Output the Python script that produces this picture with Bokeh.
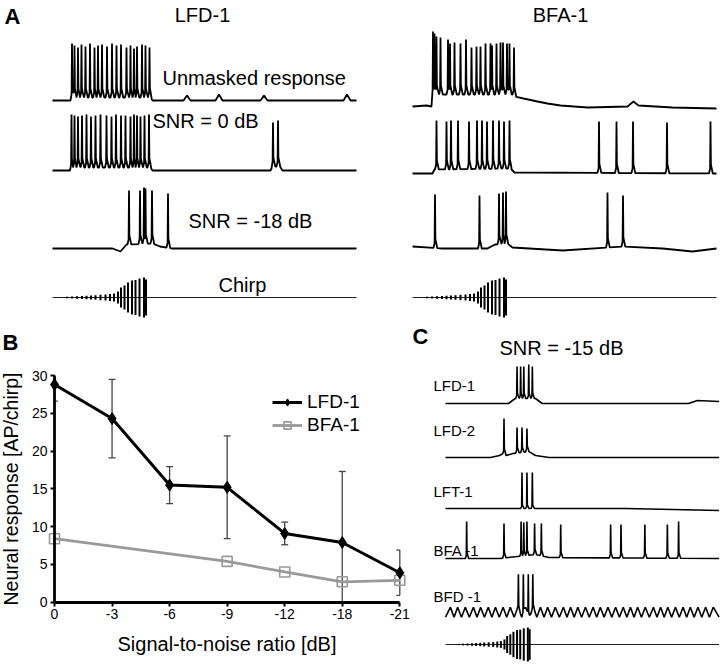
import numpy as np
from bokeh.plotting import figure
from bokeh.models import Range1d, FixedTicker, Legend, LegendItem, LinearAxis
from bokeh.core.properties import value
from bokeh.embed import file_html
from bokeh.resources import INLINE

FONT = "Liberation Sans"

# ---------------- Panel B data ----------------
snr_labels = ["0", "-3", "-6", "-9", "-12", "-18", "-21"]
lfd_mean = [28.8, 24.3, 15.5, 15.2, 9.1, 7.9, 3.9]
lfd_err = [2.2, 5.2, 2.45, 6.8, 1.5, 9.4, 3.0]
bfa_snr = ["0", "-9", "-12", "-18", "-21"]
bfa_mean = [8.4, 5.4, 4.0, 2.7, 2.9]
y_ticks = [0, 5, 10, 15, 20, 25, 30]
y_lim = (0, 30)

# ---------------- Traces (time in ms, voltage in mV above rest) ----------------
trace_dur = 608

# Panel A, LFD-1
lfd_unm_spk_t = [39, 44, 51, 58, 66, 75, 84, 91, 99, 109, 119, 128, 137, 148, 156, 163, 169, 179, 186, 194]
lfd_unm_spk_v = [57, 55, 53, 56, 54, 57, 53, 55, 56, 54, 57, 55, 56, 53, 55, 52, 54, 56, 55, 53]
lfd_unm_base_t = [0, 36, 40, 196, 200, 262, 269, 276, 326, 333, 340, 416, 423, 430, 582, 589, 596, 608]
lfd_unm_base_v = [0, 0, 3, 3, 0, 0, 5, 0, 0, 6, 0, 0, 5, 0, 0, 6, 0, 0]

lfd_0_spk_t = [38, 44, 51, 59, 68, 77, 86, 96, 108, 118, 127, 137, 146, 156, 163, 169, 176, 184, 193, 441, 451]
lfd_0_spk_v = [56, 55, 54, 55, 56, 54, 55, 56, 55, 54, 56, 55, 55, 54, 56, 55, 54, 55, 56, 48, 50]
lfd_0_base_t = [0, 36, 40, 196, 200, 436, 440, 455, 460, 608]
lfd_0_base_v = [0, 0, 3, 3, 0, 0, 4, 4, 0, 0]

lfd_18_spk_t = [153, 175, 183, 186, 199, 231]
lfd_18_spk_v = [58, 58, 61, 60, 58, 55]
lfd_18_base_t = [0, 120, 136, 148, 200, 215, 240, 608]
lfd_18_base_v = [0, 0, -3, 4, 5, 2, 0, 0]

# Panel A, BFA-1
bfa_unm_spk_t = [41, 44, 48, 56, 71, 75, 84, 96, 107, 118, 128, 136, 146, 156, 159, 168, 176, 181, 189, 194, 203]
bfa_unm_spk_v = [75, 73, 70, 69, 67, 63, 64, 63, 67, 59, 60, 60, 63, 63, 61, 63, 64, 64, 63, 63, 59]
bfa_unm_base_t = [0, 28, 38, 40, 200, 204, 222, 250, 270, 296, 350, 430, 442, 452, 520, 608]
bfa_unm_base_v = [0, 1, 0, 12, 12, 10, 8, 5, 3, 1, -1, 0, 5, 1, -1, -2]

bfa_0_spk_t = [48, 68, 77, 91, 113, 129, 139, 149, 161, 173, 183, 194, 373, 408, 441, 509, 596]
bfa_0_spk_v = [53, 52, 53, 53, 52, 53, 53, 52, 53, 53, 52, 53, 52, 52, 52, 51, 52]
bfa_0_base_t = [0, 40, 44, 196, 204, 608]
bfa_0_base_v = [0, 0, 4, 5, 1, 0]

bfa_18_spk_t = [45, 134, 173, 181, 187, 390, 421]
bfa_18_spk_v = [54, 53, 55, 56, 57, 56, 53]
bfa_18_base_t = [0, 60, 150, 165, 190, 200, 300, 420, 500, 560, 608]
bfa_18_base_v = [2, 0, 0, 4, 5, 1, -2, 2, 0, -3, 0]

# Chirp stimulus: pulse times and amplitudes
chirp_t = [29, 39, 49, 59, 68, 77, 86, 96, 106, 115, 123, 131, 137, 144, 151, 159, 166, 174, 183, 187]
chirp_a = [0.7, 1, 1.2, 1.5, 1.8, 2, 2.3, 2.7, 3, 3.5, 4, 6, 10, 12, 15, 17, 17.5, 19, 20, 18]

# Panel C (SNR = -15 dB)
c_names = ["LFD-1", "LFD-2", "LFT-1", "BFA -1", "BFD -1"]
c_lfd1_spk_t = [159, 167, 174, 185, 193]
c_lfd1_spk_v = [37, 37, 37, 39, 37]
c_lfd1_base_t = [0, 140, 155, 200, 215, 540, 560, 608]
c_lfd1_base_v = [0, 0, 5, 5, 0, 0, 3, 2]

c_lfd2_spk_t = [130, 159, 170, 181]
c_lfd2_spk_v = [39, 30, 30, 29]
c_lfd2_base_t = [0, 100, 120, 128, 135, 150, 185, 200, 230, 608]
c_lfd2_base_v = [0, 0, 2, 4, 2, 4, 6, 2, 0, 0]

c_lft1_spk_t = [170, 181, 193]
c_lft1_spk_v = [36, 36, 36]
c_lft1_base_t = [0, 400, 608]
c_lft1_base_v = [0, 0, -2]

c_bfa1_spk_t = [47, 130, 168, 174, 181, 198, 213, 256, 367, 390, 443, 493, 518]
c_bfa1_spk_v = [37, 35, 37, 36, 37, 35, 35, 34, 34, 34, 34, 34, 37]
c_bfa1_base_t = [0, 120, 160, 200, 230, 608]
c_bfa1_base_v = [0, 0, 2, 4, 1, 0]

c_bfd1_spk_t = [162, 173, 184, 194]
c_bfd1_spk_v = [38, 38, 38, 38]
c_bfd1_osc_peaks = [11, 27, 44, 62, 78, 95, 111, 128, 144, 161, 178, 195, 211, 227, 244, 262, 278, 294,
                    311, 328, 344, 361, 378, 395, 411, 427, 444, 462, 478, 494, 511, 528, 544, 561, 578, 595]
c_bfd1_osc_amp = 5

# ---------------- helpers ----------------
SHAPE = [(-3.0, 0.0), (-0.8, 5.0), (0.0, None), (0.8, 9.0), (2.5, 5.0), (4.5, 0.0)]
TEXT_DY = -6  # correction for how the svg backend places alphabetic baselines


def build_trace(bt, bv, st, sv, sh=1.0):
    bt = np.asarray(bt, float)
    bv = np.asarray(bv, float)

    def base(t):
        return float(np.interp(t, bt, bv))

    pts, windows = [], []
    n = len(st)
    for i, (ts, pk) in enumerate(zip(st, sv)):
        lo = ts - 3.0 if i == 0 else max(ts - 3.0, (st[i - 1] + ts) / 2)
        hi = ts + 4.5 if i == n - 1 else min(ts + 4.5, (ts + st[i + 1]) / 2)
        windows.append((lo, hi))
        for dt, dv in SHAPE:
            tt = ts + dt
            if dv is None:
                pts.append((tt, float(pk)))
            elif lo <= tt <= hi:
                pts.append((tt, base(tt) + dv * sh))
    for t, v in zip(bt, bv):
        if not any(lo < t < hi for lo, hi in windows):
            pts.append((float(t), float(v)))
    pts.sort()
    return np.array([p[0] for p in pts]), np.array([p[1] for p in pts])


def draw_trace(p, x0, y0, sx, sy, bt, bv, st, sv, sh=1.0, lw=1.8):
    t, v = build_trace(bt, bv, st, sv, sh)
    p.line(x0 + t * sx, y0 - v * sy, line_color="black", line_width=lw)


def draw_chirp(p, x0, y0, sx, k):
    t = np.asarray(chirp_t, float)
    a = np.asarray(chirp_a, float)
    p.line([x0, x0 + trace_dur * sx], [y0, y0], line_color="#222222", line_width=1)
    p.segment(x0=x0 + t * sx, y0=y0 - a * k, x1=x0 + t * sx, y1=y0 + a * k,
              line_color="black", line_width=2)


def put_text(p, x, y, s, size, bold=False, align="left"):
    p.text(x=[x], y=[y + TEXT_DY], text=[s], text_font=value(FONT), text_font_size=value(f"{size}px"),
           text_font_style="bold" if bold else "normal", text_align=align,
           text_baseline="alphabetic", text_color="black")


# ---------------- one canvas, page coordinates in reference pixels ----------------
W_REF, H_REF = 720, 665
p = figure(width=W_REF, height=H_REF, x_range=Range1d(0, W_REF), y_range=Range1d(H_REF, 0),
           x_axis_location=None, y_axis_location=None,
           output_backend="svg", toolbar_location=None, min_border=0)
p.title.visible = False
p.outline_line_color = None
p.grid.visible = False

# ---------------- Panel A ----------------
A_SX = 0.5
LX0, BX0 = 52, 412
draw_trace(p, LX0, 100, A_SX, 1, lfd_unm_base_t, lfd_unm_base_v, lfd_unm_spk_t, lfd_unm_spk_v)
draw_trace(p, LX0, 170, A_SX, 1, lfd_0_base_t, lfd_0_base_v, lfd_0_spk_t, lfd_0_spk_v)
draw_trace(p, LX0, 248, A_SX, 1, lfd_18_base_t, lfd_18_base_v, lfd_18_spk_t, lfd_18_spk_v)
draw_chirp(p, LX0, 297, A_SX, 1.0)
draw_trace(p, BX0, 106, A_SX, 1, bfa_unm_base_t, bfa_unm_base_v, bfa_unm_spk_t, bfa_unm_spk_v)
draw_trace(p, BX0, 173, A_SX, 1, bfa_0_base_t, bfa_0_base_v, bfa_0_spk_t, bfa_0_spk_v)
draw_trace(p, BX0, 248, A_SX, 1, bfa_18_base_t, bfa_18_base_v, bfa_18_spk_t, bfa_18_spk_v)
draw_chirp(p, BX0, 297, A_SX, 1.0)

put_text(p, 4, 21.5, "A", 22, bold=True)
put_text(p, 202, 20.5, "LFD-1", 20, align="center")
put_text(p, 560, 20.5, "BFA-1", 20, align="center")
put_text(p, 162, 83, "Unmasked response", 20)
put_text(p, 152, 126, "SNR = 0 dB", 20)
put_text(p, 188, 226, "SNR = -18 dB", 20)
put_text(p, 218, 290, "Chirp", 20)

# ---------------- Panel B (own ranges mapped into its plot box) ----------------
BL, BR, BT, BB = 54.0, 399.3, 375.0, 601.7  # plot box of panel B, reference pixels
nx = len(snr_labels) - 1
kx = (BR - BL) / nx
ky = (BB - BT) / (y_lim[1] - y_lim[0])
p.extra_x_ranges = {"bx": Range1d(-BL / kx, nx + (W_REF - BR) / kx)}
p.extra_y_ranges = {"by": Range1d(y_lim[0] - (H_REF - BB) / ky, y_lim[0] + BB / ky)}
RB = dict(x_range_name="bx", y_range_name="by")

xi = list(range(len(snr_labels)))
bxi = [snr_labels.index(s) for s in bfa_snr]

lo = [max(m - e, y_lim[0]) for m, e in zip(lfd_mean, lfd_err)]
hi = [min(m + e, y_lim[1]) for m, e in zip(lfd_mean, lfd_err)]
cap = 0.06
p.segment(x0=xi, y0=lo, x1=xi, y1=hi, line_color="#444444", line_width=1.3, **RB)
cx0, cx1, cy = [], [], []
for x, m, e in zip(xi, lfd_mean, lfd_err):
    for yv in (m - e, m + e):
        if y_lim[0] < yv < y_lim[1]:
            cx0.append(max(x - cap, 0))
            cx1.append(min(x + cap, nx))
            cy.append(yv)
p.segment(x0=cx0, y0=cy, x1=cx1, y1=cy, line_color="#444444", line_width=1.3, **RB)

l2 = p.line(bxi, bfa_mean, line_color="#999999", line_width=2.8, **RB)
s2 = p.scatter(bxi, bfa_mean, marker="square", size=10, line_color="#999999", fill_color=None,
               line_width=1.6, **RB)
l1 = p.line(xi, lfd_mean, line_color="black", line_width=3, **RB)
s1 = p.scatter(xi, lfd_mean, marker="diamond", size=12, line_color="black", fill_color="black", **RB)

xa = LinearAxis(fixed_location=y_lim[0], bounds=(0, nx), ticker=FixedTicker(ticks=xi),
                major_label_overrides={i: s for i, s in enumerate(snr_labels)},
                axis_label="Signal-to-noise ratio [dB]", **RB)
ya = LinearAxis(fixed_location=0, bounds=y_lim, ticker=FixedTicker(ticks=y_ticks),
                axis_label="Neural response [AP/chirp]", **RB)
for ax in (xa, ya):
    ax.axis_line_width = 2.8
    ax.axis_line_color = "black"
    ax.major_tick_line_width = 2
    ax.major_tick_line_color = "black"
    ax.major_tick_out = 4
    ax.major_tick_in = 0
    ax.minor_tick_line_color = None
    ax.major_label_text_font = FONT
    ax.major_label_text_font_size = "14px"
    ax.major_label_text_color = "black"
    ax.major_label_standoff = 3
    ax.axis_label_text_font = FONT
    ax.axis_label_text_font_size = "20px"
    ax.axis_label_text_font_style = "normal"
    ax.axis_label_text_color = "black"
xa.axis_label_standoff = 10
ya.axis_label_standoff = 7
ya.axis_label_text_font_size = "19.5px"
p.add_layout(xa, "below")
p.add_layout(ya, "left")

legend_rows = [(401, "LFD-1", [l1, s1]), (424, "BFA-1", [l2, s2])]  # row centre, ref px
ROW_H = 23
for yc, lab, rends in legend_rows:
    lg = Legend(items=[LegendItem(label=lab, renderers=rends)],
                location=(272, H_REF - yc - ROW_H / 2), padding=0, margin=0, spacing=0,
                glyph_width=30, glyph_height=18, label_height=18, label_standoff=5,
                border_line_color=None, background_fill_alpha=0,
                label_text_font=FONT, label_text_font_size="19px", label_text_color="black")
    p.add_layout(lg)

put_text(p, 2, 348, "B", 22, bold=True)

# ---------------- Panel C ----------------
C_SX = 0.45
CX0 = 445
c_rows_y = [403, 457, 508, 558, 611.7]
c_label_y = [391, 436, 497, 555.5, 602]
draw_trace(p, CX0, c_rows_y[0], C_SX, 1, c_lfd1_base_t, c_lfd1_base_v, c_lfd1_spk_t, c_lfd1_spk_v, sh=0.6, lw=1.6)
draw_trace(p, CX0, c_rows_y[1], C_SX, 1, c_lfd2_base_t, c_lfd2_base_v, c_lfd2_spk_t, c_lfd2_spk_v, sh=0.6, lw=1.6)
draw_trace(p, CX0, c_rows_y[2], C_SX, 1, c_lft1_base_t, c_lft1_base_v, c_lft1_spk_t, c_lft1_spk_v, sh=0.4, lw=1.6)
draw_trace(p, CX0, c_rows_y[3], C_SX, 1, c_bfa1_base_t, c_bfa1_base_v, c_bfa1_spk_t, c_bfa1_spk_v, sh=0.6, lw=1.6)

# BFD-1: oscillating membrane (peaks and midway troughs)
pk = c_bfd1_osc_peaks
osc_t = [0.0]
osc_v = [-c_bfd1_osc_amp]
for i, t in enumerate(pk):
    if i > 0:
        osc_t.append((pk[i - 1] + t) / 2)
        osc_v.append(-c_bfd1_osc_amp)
    osc_t.append(t)
    osc_v.append(c_bfd1_osc_amp)
osc_t.append(trace_dur)
osc_v.append(-c_bfd1_osc_amp)
draw_trace(p, CX0, c_rows_y[4], C_SX, 1, osc_t, osc_v, c_bfd1_spk_t, c_bfd1_spk_v, sh=0.4, lw=1.6)
draw_chirp(p, CX0, 644, C_SX, 0.85)

for name, yl in zip(c_names, c_label_y):
    put_text(p, 433, yl, name, 15)
put_text(p, 412, 342, "C", 22, bold=True)
put_text(p, 561, 353, "SNR = -15 dB", 20, align="center")

open("out.html", "w").write(file_html(p, INLINE))
